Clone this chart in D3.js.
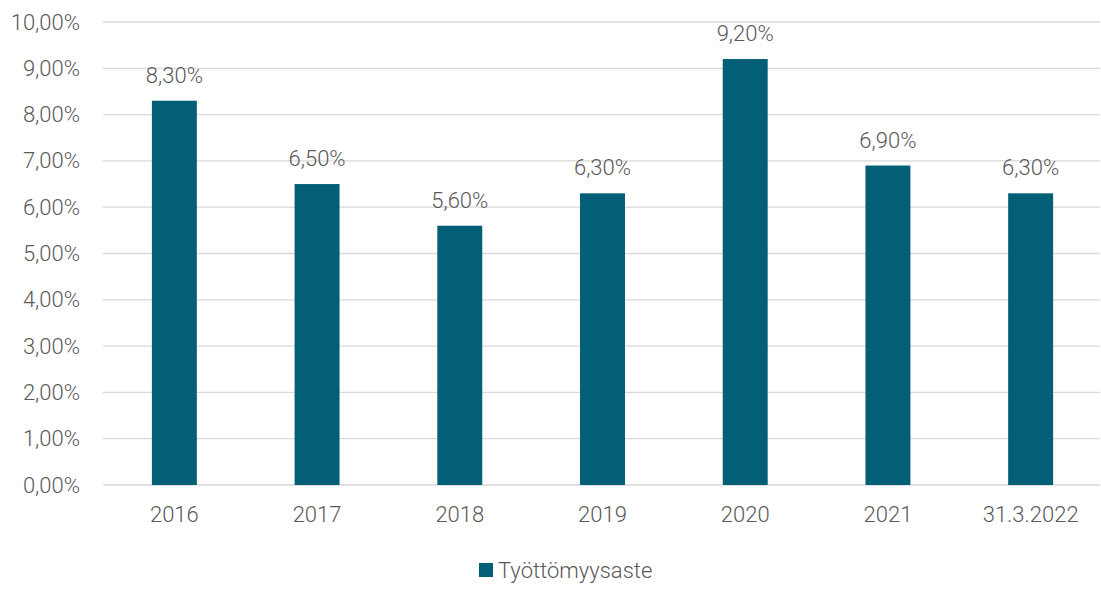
<!DOCTYPE html>
<html>
<head>
<meta charset="utf-8">
<script src="https://cdn.jsdelivr.net/npm/d3@7"></script>
<style>
  body { margin: 0; background: #fff; }
  svg { font-family: Roboto, "Noto Sans", sans-serif; }
</style>
</head>
<body>
<svg id="chart"></svg>
<script>
var categories = ["2016", "2017", "2018", "2019", "2020", "2021", "31.3.2022"];
var values = [8.3, 6.5, 5.6, 6.3, 9.2, 6.9, 6.3];
var yTicks = [0, 1, 2, 3, 4, 5, 6, 7, 8, 9, 10];
var seriesName = "Työttömyysaste";

var W = 1101, H = 590;
var BAR = "#035f75";
var TEXT = "#595959";
var GRID = "#d9d9d9";
var FS = "22px";

function pct(v) {
    return v.toFixed(2).replace(".", ",") + "%";
}

var svg = d3.select("#chart").attr("width", W).attr("height", H);

var x = d3.scaleBand().domain(categories).range([103, 1102]).paddingInner(0.685).paddingOuter(0.3425);
var y = d3.scaleLinear().domain([0, 10]).range([485, 22]);

// gridlines
svg.append("g").selectAll("line").data(yTicks).enter().append("line")
    .attr("x1", 103).attr("x2", 1100)
    .attr("y1", function (d) { return y(d); })
    .attr("y2", function (d) { return y(d); })
    .attr("stroke", GRID).attr("stroke-width", 1.3);

// y labels
var yAxis = d3.axisLeft(y).tickValues(yTicks).tickFormat(function (d) { return pct(d); }).tickSize(0).tickPadding(0);
var gy = svg.append("g").attr("transform", "translate(80,0)").call(yAxis);
gy.select(".domain").remove();
gy.selectAll("text").attr("fill", TEXT).style("font-size", FS).style("font-weight", 300).style("font-family", "Roboto, sans-serif");

// x labels
var xAxis = d3.axisBottom(x).tickSize(0).tickPadding(0);
var gx = svg.append("g").attr("transform", "translate(0,506)").call(xAxis);
gx.select(".domain").remove();
gx.selectAll("text").attr("fill", TEXT).style("font-size", FS).style("font-weight", 300).style("font-family", "Roboto, sans-serif");

// bars
svg.append("g").selectAll("rect").data(values).enter().append("rect")
    .attr("x", function (d, i) { return x(categories[i]); })
    .attr("width", x.bandwidth())
    .attr("y", function (d) { return y(d); })
    .attr("height", function (d) { return y(0) - y(d); })
    .attr("fill", BAR);

// value labels
svg.append("g").selectAll("text").data(values).enter().append("text")
    .attr("x", function (d, i) { return x(categories[i]) + x.bandwidth() / 2; })
    .attr("y", function (d) { return y(d) - 18; })
    .attr("text-anchor", "middle")
    .attr("fill", TEXT)
    .style("font-size", FS)
    .style("font-weight", 300)
    .text(function (d) { return pct(d); });

// legend
var leg = svg.append("g").attr("transform", "translate(479,563)");
leg.append("rect").attr("width", 14).attr("height", 14).attr("fill", BAR);
leg.append("text").attr("x", 19).attr("y", 15).attr("fill", TEXT)
    .style("font-size", FS).style("font-weight", 300).text(seriesName);
</script>
</body>
</html>
